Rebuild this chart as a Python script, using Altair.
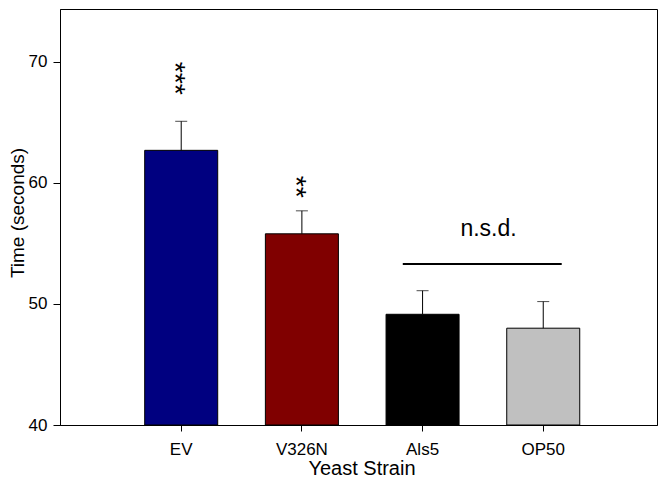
import altair as alt
import pandas as pd

# ---- data ----
strains = ["EV", "V326N", "Als5", "OP50"]
mean_time = [62.7, 55.8, 49.15, 48.0]
sem_time = [2.4, 1.9, 1.95, 2.2]
bar_colors = ["#000080", "#800000", "#000000", "#c0c0c0"]

sig_strains = ["EV", "V326N"]
sig_labels = ["***", "**"]
sig_y = [68.65, 59.68]

nsd_from = ["Als5"]
nsd_to = ["OP50"]
nsd_line_y = [53.3]
nsd_label = ["n.s.d."]
nsd_text_y = [55.64]

FONT = "Liberation Sans"

df = pd.DataFrame({"strain": strains, "mean": mean_time, "sem": sem_time})
df["top"] = df["mean"] + df["sem"]
sig_df = pd.DataFrame({"strain": sig_strains, "label": sig_labels, "y": sig_y})
nsd_df = pd.DataFrame({"start": nsd_from, "end": nsd_to, "y": nsd_line_y,
                       "label": nsd_label, "ty": nsd_text_y})

xscale = alt.Scale(domain=strains, paddingInner=0.395, paddingOuter=0.671, align=0.523)
yscale = alt.Scale(domain=[40, 74.38], nice=False, zero=False)

xaxis = alt.Axis(title="Yeast Strain", labelAngle=0, tickSize=6, labelPadding=10,
                 labelFontSize=17, titleFontSize=20, titleY=49, titleX=301.5,
                 titleBaseline="alphabetic")
yaxis = alt.Axis(title="Time (seconds)", values=[40, 50, 60, 70], tickSize=7,
                 labelPadding=6, labelFontSize=17, titleFontSize=19,
                 titleX=-52, titleY=203.5, titleBaseline="top")

bars = alt.Chart(df).mark_bar(stroke="black", strokeWidth=1).encode(
    x=alt.X("strain:N", scale=xscale, axis=xaxis),
    y=alt.Y("mean:Q", scale=yscale, axis=yaxis),
    y2=alt.datum(40),
    color=alt.Color("strain:N", scale=alt.Scale(domain=strains, range=bar_colors), legend=None),
)

err = alt.Chart(df).mark_rule(color="black", strokeWidth=1).encode(
    x=alt.X("strain:N", scale=xscale, axis=xaxis),
    y=alt.Y("mean:Q", scale=yscale, axis=yaxis),
    y2="top:Q",
)

cap = alt.Chart(df).mark_tick(color="black", size=12, thickness=1).encode(
    x=alt.X("strain:N", scale=xscale, axis=xaxis),
    y=alt.Y("top:Q", scale=yscale, axis=yaxis),
)

stars = alt.Chart(sig_df).mark_text(
    angle=90, fontSize=28.5, baseline="middle", align="center",
    dy=6, font=FONT, color="black"
).encode(
    x=alt.X("strain:N", scale=xscale, axis=xaxis),
    y=alt.Y("y:Q", scale=yscale, axis=yaxis),
    text="label:N",
)

nsd_line = alt.Chart(nsd_df).mark_rule(color="black", strokeWidth=2).encode(
    x=alt.X("start:N", scale=xscale, axis=xaxis, bandPosition=0.229),
    x2=alt.X2("end:N", bandPosition=0.753),
    y=alt.Y("y:Q", scale=yscale, axis=yaxis),
)

nsd_text = alt.Chart(nsd_df).mark_text(
    fontSize=23, baseline="alphabetic", align="center", dx=66, font=FONT, color="black"
).encode(
    x=alt.X("start:N", scale=xscale, axis=xaxis),
    y=alt.Y("ty:Q", scale=yscale, axis=yaxis),
    text="label:N",
)

chart = alt.layer(bars, err, cap, stars, nsd_line, nsd_text).properties(
    width=597, height=416,
    autosize=alt.AutoSizeParams(type="none"),
    padding={"left": 52, "top": 1, "right": 1, "bottom": 53},
).configure_view(
    stroke="black", strokeWidth=1
).configure_axis(
    grid=False, domainColor="black", domainWidth=1, tickColor="black", tickWidth=1,
    labelColor="black", titleColor="black", labelFont=FONT, titleFont=FONT,
    titleFontWeight="normal",
)

chart.save("out.html", embed_options={"renderer": "svg", "actions": False})
